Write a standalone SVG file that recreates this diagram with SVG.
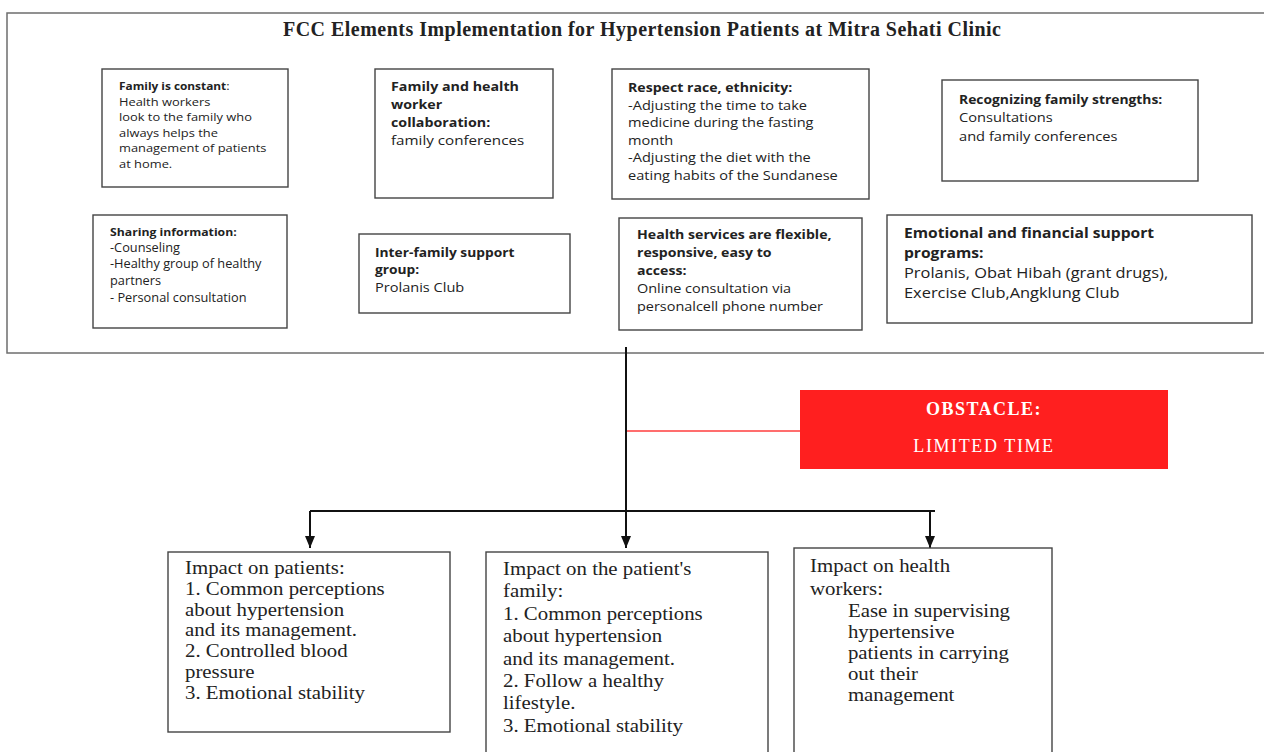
<svg xmlns="http://www.w3.org/2000/svg" width="1264" height="752" viewBox="0 0 1264 752">
<style>
.frame{fill:#fff;stroke:#6e6e6e;stroke-width:1.5}
.box{fill:#fff;stroke:#444;stroke-width:1.4}
.s{font-family:"Open Sans","Liberation Sans",sans-serif;fill:#222}
.b{font-weight:bold}
.t{font-family:"Liberation Serif","Times New Roman",serif;fill:#222}
.conn{stroke:#111;stroke-width:2;fill:none}
</style>
<defs>
<marker id="ah" markerWidth="12" markerHeight="10" refX="12" refY="5" orient="auto" markerUnits="userSpaceOnUse">
<path d="M0,0 L12,5 L0,10 Z" fill="#111"/>
</marker>
</defs>
<rect width="1264" height="752" fill="#fff"/>
<g id="frame">
<rect class="frame" x="7" y="13" width="1270" height="340"/>
<text class="t b" x="283" y="36" font-size="20" textLength="718" lengthAdjust="spacing">FCC Elements Implementation for Hypertension Patients at Mitra Sehati Clinic</text>
</g>
<g id="family-constant">
<rect class="box" x="102" y="69" width="186" height="118"/>
<text class="s" font-size="11.3" transform="translate(119,0) scale(1.14,1)"><tspan x="0" y="90"><tspan class="b" font-size="10.4">Family is constant</tspan>:</tspan><tspan x="0" y="105.6">Health workers</tspan><tspan x="0" y="121.2">look to the family who</tspan><tspan x="0" y="136.8">always helps the</tspan><tspan x="0" y="152.4">management of patients</tspan><tspan x="0" y="168">at home.</tspan></text>
</g>
<g id="collaboration">
<rect class="box" x="375" y="69" width="178" height="129"/>
<text class="s" font-size="13.2" transform="translate(391,0) scale(1.15,1)"><tspan class="b" font-size="12.4" x="0" y="91">Family and health</tspan><tspan class="b" font-size="12.4" x="0" y="109">worker</tspan><tspan class="b" font-size="12.4" x="0" y="127">collaboration:</tspan><tspan x="0" y="145">family conferences</tspan></text>
</g>
<g id="respect">
<rect class="box" x="612" y="69" width="257" height="130"/>
<text class="s" font-size="12.9" transform="translate(628,0) scale(1.129,1)"><tspan class="b" font-size="12.5" x="0" y="92">Respect race, ethnicity:</tspan><tspan x="0" y="109.6">-Adjusting the time to take</tspan><tspan x="0" y="127.2">medicine during the fasting</tspan><tspan x="0" y="144.8">month</tspan><tspan x="0" y="162.4">-Adjusting the diet with the</tspan><tspan x="0" y="180">eating habits of the Sundanese</tspan></text>
</g>
<g id="strengths">
<rect class="box" x="942" y="80" width="256" height="101"/>
<text class="s" font-size="13.2" transform="translate(959,0) scale(1.11,1)"><tspan class="b" font-size="12.5" x="0" y="104">Recognizing family strengths:</tspan><tspan x="0" y="122">Consultations</tspan><tspan x="0" y="141">and family conferences</tspan></text>
</g>
<g id="sharing">
<rect class="box" x="93" y="215" width="194" height="113"/>
<text class="s" font-size="11.7" transform="translate(110,0) scale(1.093,1)"><tspan class="b" font-size="11.2" x="0" y="236">Sharing information:</tspan><tspan x="0" y="252">-Counseling</tspan><tspan x="0" y="268">-Healthy group of healthy</tspan><tspan x="0" y="285">partners</tspan><tspan x="0" y="302">- Personal consultation</tspan></text>
</g>
<g id="inter-family">
<rect class="box" x="359" y="234" width="211" height="79"/>
<text class="s" font-size="12.8" transform="translate(375,0) scale(1.139,1)"><tspan class="b" font-size="12.1" x="0" y="257">Inter-family support</tspan><tspan class="b" font-size="12.1" x="0" y="274.5">group:</tspan><tspan x="0" y="292">Prolanis Club</tspan></text>
</g>
<g id="flexible">
<rect class="box" x="619" y="218" width="243" height="112"/>
<text class="s" font-size="13.2" transform="translate(637,0) scale(1.095,1)"><tspan class="b" font-size="12.9" x="0" y="239">Health services are flexible,</tspan><tspan class="b" font-size="12.9" x="0" y="257">responsive, easy to</tspan><tspan class="b" font-size="12.9" x="0" y="275">access:</tspan><tspan x="0" y="293">Online consultation via</tspan><tspan x="0" y="311">personalcell phone number</tspan></text>
</g>
<g id="support">
<rect class="box" x="887" y="215" width="365" height="108"/>
<text class="s" font-size="14.6" transform="translate(904,0) scale(1.124,1)"><tspan class="b" font-size="13.9" x="0" y="238">Emotional and financial support</tspan><tspan class="b" font-size="13.9" x="0" y="258">programs:</tspan><tspan x="0" y="278">Prolanis, Obat Hibah (grant drugs),</tspan><tspan x="0" y="298">Exercise Club,Angklung Club</tspan></text>
</g>
<g id="connectors">
<line x1="626" y1="431" x2="800" y2="431" stroke="#ff3c3c" stroke-width="1.6"/>
<path class="conn" d="M626,347 V548" marker-end="url(#ah)"/>
<path class="conn" d="M310,511 H935"/>
<path class="conn" d="M310,511 V548" marker-end="url(#ah)"/>
<path class="conn" d="M930,511 V548" marker-end="url(#ah)"/>
</g>
<g id="obstacle">
<rect x="800" y="390" width="368" height="79" fill="#ff1f1f"/>
<text class="t b" x="984" y="415" font-size="18" style="fill:#fff" text-anchor="middle" letter-spacing="1.5">OBSTACLE:</text>
<text class="t" x="984" y="452" font-size="18" style="fill:#fff" text-anchor="middle" letter-spacing="1.6">LIMITED TIME</text>
</g>
<g id="impact-patients">
<rect class="box" x="168" y="552" width="282" height="180"/>
<text class="t" font-size="18.7" transform="translate(185,0) scale(1.115,1)"><tspan x="0" y="574">Impact on patients:</tspan><tspan x="0" y="594.8">1. Common perceptions</tspan><tspan x="0" y="615.7">about hypertension</tspan><tspan x="0" y="636.5">and its management.</tspan><tspan x="0" y="657.3">2. Controlled blood</tspan><tspan x="0" y="678.2">pressure</tspan><tspan x="0" y="699">3. Emotional stability</tspan></text>
</g>
<g id="impact-family">
<rect class="box" x="486" y="552" width="282" height="210"/>
<text class="t" font-size="18.7" transform="translate(503,0) scale(1.115,1)"><tspan x="0" y="575">Impact on the patient's</tspan><tspan x="0" y="597">family:</tspan><tspan x="0" y="620">1. Common perceptions</tspan><tspan x="0" y="642">about hypertension</tspan><tspan x="0" y="665">and its management.</tspan><tspan x="0" y="687">2. Follow a healthy</tspan><tspan x="0" y="709">lifestyle.</tspan><tspan x="0" y="732">3. Emotional stability</tspan></text>
</g>
<g id="impact-workers">
<rect class="box" x="794" y="548" width="258" height="214"/>
<text class="t" font-size="18.7" transform="translate(810,0) scale(1.115,1)"><tspan x="0" y="572">Impact on health</tspan><tspan x="0" y="595">workers:</tspan><tspan x="34" y="617.5">Ease in supervising</tspan><tspan x="34" y="638.5">hypertensive</tspan><tspan x="34" y="659.5">patients in carrying</tspan><tspan x="34" y="680.5">out their</tspan><tspan x="34" y="701.5">management</tspan></text>
</g>
</svg>
